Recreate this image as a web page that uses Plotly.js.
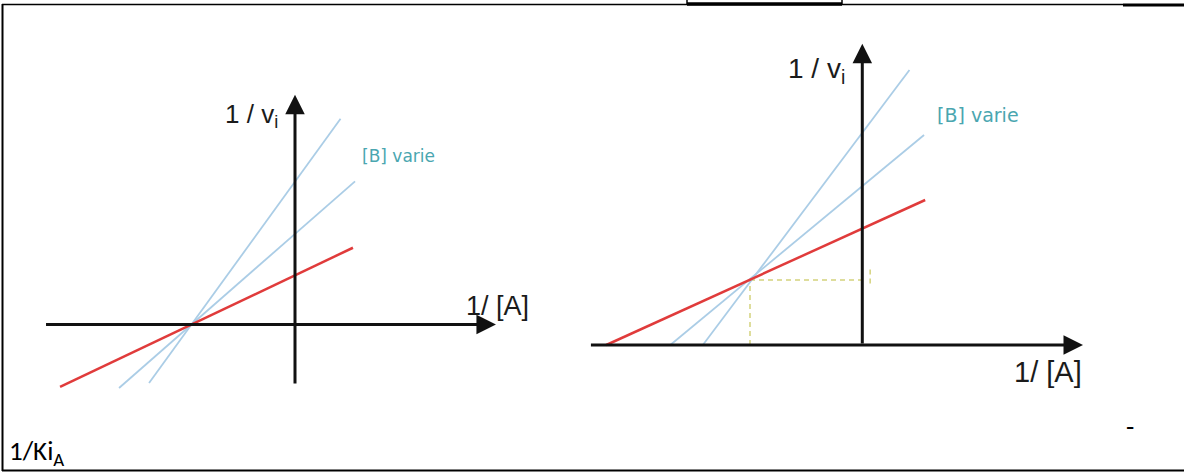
<!DOCTYPE html>
<html>
<head>
<meta charset="utf-8">
<script src="https://cdn.plot.ly/plotly-3.0.1.min.js"></script>
<style>
  html, body { margin: 0; padding: 0; background: #fff; }
  #chart { width: 1184px; height: 472px; }
</style>
</head>
<body>
<div id="chart"></div>
<script>
// left plot: [B] varies, the three lines meet on the 1/[A] axis
const leftRedX = [-2.27, 0.56];
const leftRedY = [-1.27, 1.56];
const leftSteepX = [-1.41, 0.44];
const leftSteepY = [-1.19, 4.18];
const leftMidX = [-1.70, 0.58];
const leftMidY = [-1.29, 2.91];
const leftAxisX = [-2.42, 1.99]; // 1/[A] axis, tail -> tip
const leftAxisY = [-1.23, 4.77]; // 1/vi axis, tail -> tip

// right plot: the lines meet above the 1/[A] axis
const rightRedX = [-2.28, 0.56];
const rightRedY = [0, 1.25];
const rightSteepX = [-1.42, 0.42];
const rightSteepY = [0, 2.37];
const rightMidX = [-1.71, 0.55];
const rightMidY = [0, 1.81];
const crossX = -1.0;
const crossY = 0.56;
const tickX = [0.07, 0.07];
const tickY = [0.53, 0.66];
const rightAxisX = [-2.43, 2.01];
const rightAxisY = [0, 2.64];

const labelY = "1 / v<sub>i</sub>";
const labelX = "1/ [A]";
const labelB = "[B] varie";
const footLabel = "1/Ki<sub>A</sub>";

const W = 1184, H = 472;
const px = v => v / W;
const py = v => 1 - v / H;

const RED = "#e03b3b";
const BLUE = "#abcde6";
const AXIS = "#111111";
const TEAL = "#4aa6b0";
const DASH = "#d4d27c";

function seg(x, y, color, width, xa, ya, dash) {
  return {
    x: x, y: y, xaxis: xa, yaxis: ya,
    mode: "lines", hoverinfo: "skip",
    line: { color: color, width: width, dash: dash || "solid" },
  };
}

const traces = [
  seg(leftMidX, leftMidY, BLUE, 1.8, "x", "y"),
  seg(leftSteepX, leftSteepY, BLUE, 1.8, "x", "y"),
  seg(leftRedX, leftRedY, RED, 2.5, "x", "y"),
  seg([crossX, crossX], [0, crossY], DASH, 1.5, "x2", "y2", "5px,4px"),
  seg([crossX, 0], [crossY, crossY], DASH, 1.5, "x2", "y2", "5px,4px"),
  seg(tickX, tickY, DASH, 1.5, "x2", "y2", "5px,4px"),
  seg(rightMidX, rightMidY, BLUE, 1.8, "x2", "y2"),
  seg(rightSteepX, rightSteepY, BLUE, 1.8, "x2", "y2"),
  seg(rightRedX, rightRedY, RED, 2.5, "x2", "y2"),
];

// axes drawn as annotation arrows, tail -> tip in data units
function arrow(xa, ya, x0, y0, x1, y1) {
  return {
    xref: xa, yref: ya, axref: xa, ayref: ya,
    x: x1, y: y1, ax: x0, ay: y0, text: "",
    showarrow: true, arrowhead: 2, arrowsize: 1.3, arrowwidth: 3,
    arrowcolor: AXIS, standoff: 5,
  };
}

function label(text, x, y, size, color, xanchor, family) {
  return {
    xref: "paper", yref: "paper", x: px(x), y: py(y),
    xanchor: xanchor, yanchor: "middle", showarrow: false,
    text: text,
    font: { family: family || "Liberation Sans, Arial, sans-serif", size: size, color: color },
  };
}

const annotations = [
  arrow("x", "y", leftAxisX[0], 0, leftAxisX[1], 0),
  arrow("x", "y", 0, leftAxisY[0], 0, leftAxisY[1]),
  arrow("x2", "y2", rightAxisX[0], 0, rightAxisX[1], 0),
  arrow("x2", "y2", 0, rightAxisY[0], 0, rightAxisY[1]),
  label(labelY, 280, 115, 26, "#1b1b1b", "right"),
  label(labelB, 360, 156, 17, TEAL, "left", "DejaVu Sans, sans-serif"),
  label(labelX, 464, 306, 27, "#1b1b1b", "left"),
  label(labelY, 847, 70, 28, "#1b1b1b", "right"),
  label(labelB, 935, 115, 19, TEAL, "left", "DejaVu Sans, sans-serif"),
  label(labelX, 1012, 372, 29, "#1b1b1b", "left"),
  label(footLabel, 7, 452, 27, "#000", "left", "Carlito, Lato, sans-serif"),
  label("-", 1124, 426, 27, "#000", "left", "Carlito, Lato, sans-serif"),
];

function line(x0, y0, x1, y1, w) {
  return {
    type: "line", xref: "paper", yref: "paper",
    x0: px(x0), y0: py(y0), x1: px(x1), y1: py(y1),
    line: { color: "#000", width: w },
  };
}

const shapes = [
  line(2, 4.5, 1123, 4.5, 1.5),
  line(687, 0, 687, 5, 1.5),
  line(842, 0, 842, 5, 1.5),
  line(687, 4, 842, 4, 3.5),
  line(1123, 5, 1184, 5, 3),
  line(2.5, 4, 2.5, 471, 2),
  line(2, 470.5, 1184, 470.5, 2),
];

const hidden = { visible: false, showgrid: false, zeroline: false, fixedrange: true };

const layout = {
  width: W,
  height: H,
  margin: { l: 0, r: 0, t: 0, b: 0 },
  paper_bgcolor: "#ffffff",
  plot_bgcolor: "rgba(0,0,0,0)",
  showlegend: false,
  xaxis: Object.assign({ domain: [0, 560 / W], range: [-2.8502, 2.5604], anchor: "y" }, hidden),
  yaxis: Object.assign({ domain: [0, 1], range: [-2.998, 6.5955], anchor: "x" }, hidden),
  xaxis2: Object.assign({ domain: [560 / W, 1], range: [-2.692, 2.865], anchor: "y2" }, hidden),
  yaxis2: Object.assign({ domain: [0, 1], range: [-1.0948, 2.9741], anchor: "x2" }, hidden),
  annotations: annotations,
  shapes: shapes,
};

Plotly.newPlot("chart", traces, layout, { displayModeBar: false, staticPlot: true });
</script>
</body>
</html>
